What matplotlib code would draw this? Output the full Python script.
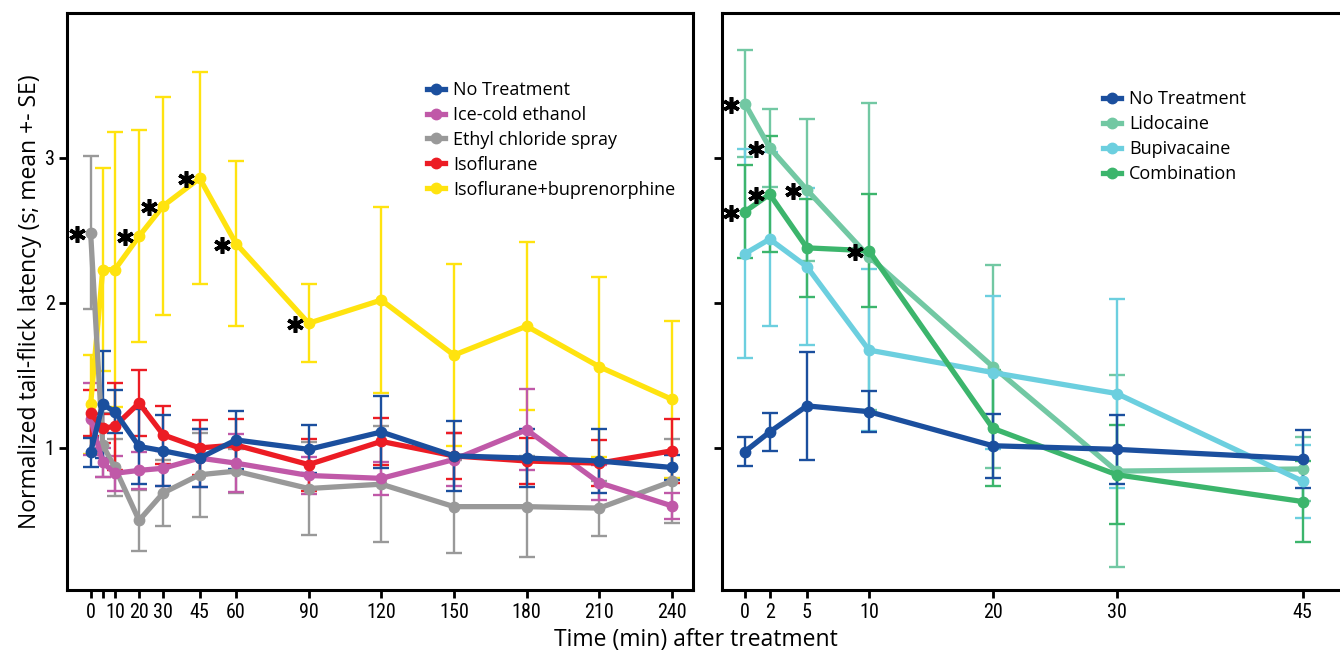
import matplotlib
matplotlib.use('Agg')
import matplotlib.pyplot as plt
from matplotlib import font_manager
from matplotlib.lines import Line2D
from matplotlib.transforms import offset_copy

# left panel: systemic / general treatments
t_left = [0, 5, 10, 20, 30, 45, 60, 90, 120, 150, 180, 210, 240]
tick_left = [0, 5, 10, 20, 30, 45, 60, 90, 120, 150, 180, 210, 240]
ticklab_left = ['0', '', '10', '20', '30', '45', '60', '90', '120', '150', '180', '210', '240']

no_treat = [0.97, 1.30, 1.25, 1.01, 0.98, 0.93, 1.055, 0.99, 1.11, 0.945, 0.93, 0.91, 0.865]
no_treat_se = [0.10, 0.37, 0.15, 0.26, 0.245, 0.20, 0.20, 0.165, 0.25, 0.24, 0.20, 0.22, 0.085]
ice = [1.20, 0.90, 0.825, 0.845, 0.86, 0.93, 0.895, 0.81, 0.79, 0.92, 1.125, 0.76, 0.60]
ice_se = [0.25, 0.10, 0.12, 0.13, 0.12, 0.20, 0.20, 0.13, 0.115, 0.18, 0.28, 0.12, 0.09]
ethyl = [2.485, 1.02, 0.865, 0.50, 0.69, 0.815, 0.84, 0.72, 0.75, 0.595, 0.595, 0.585, 0.77]
ethyl_se = [0.53, 0.22, 0.20, 0.21, 0.23, 0.29, 0.15, 0.32, 0.40, 0.32, 0.35, 0.19, 0.29]
iso = [1.24, 1.135, 1.15, 1.31, 1.09, 1.00, 1.02, 0.885, 1.045, 0.945, 0.91, 0.895, 0.98]
iso_se = [0.16, 0.10, 0.30, 0.23, 0.20, 0.19, 0.18, 0.18, 0.16, 0.16, 0.16, 0.16, 0.22]
isobup = [1.30, 2.23, 2.23, 2.46, 2.67, 2.86, 2.41, 1.86, 2.02, 1.64, 1.84, 1.56, 1.335]
isobup_se = [0.34, 0.70, 0.95, 0.73, 0.75, 0.73, 0.57, 0.27, 0.64, 0.63, 0.58, 0.62, 0.54]

# right panel: local anaesthetics
t_right = [0, 2, 5, 10, 20, 30, 45]
nt_right = [0.975, 1.11, 1.29, 1.25, 1.015, 0.99, 0.925]
nt_right_se = [0.10, 0.13, 0.37, 0.14, 0.22, 0.24, 0.20]
lido = [3.375, 3.07, 2.78, 2.32, 1.56, 0.84, 0.855]
lido_se = [0.37, 0.27, 0.49, 1.06, 0.70, 0.66, 0.22]
bupi = [2.34, 2.44, 2.25, 1.675, 1.52, 1.375, 0.77]
bupi_se = [0.72, 0.60, 0.54, 0.56, 0.53, 0.65, 0.25]
combo = [2.63, 2.75, 2.38, 2.36, 1.135, 0.815, 0.63]
combo_se = [0.32, 0.40, 0.34, 0.39, 0.40, 0.34, 0.28]

# significance marks: (series, index)
stars_left = [('ethyl', 0), ('isobup', 3), ('isobup', 4), ('isobup', 5), ('isobup', 6), ('isobup', 7)]
stars_right = [('lido', 0), ('lido', 1), ('lido', 2), ('combo', 0), ('combo', 1), ('combo', 3)]

BLUE = '#1b4f9e'
PURPLE = '#c059a8'
GRAY = '#999999'
RED = '#ec1c24'
YELLOW = '#ffe30f'
LIDO = '#72c8a3'
BUPI = '#6ccfdf'
COMBO = '#3cb56c'

names = {f.name for f in font_manager.fontManager.ttflist}
label_font = 'Open Sans' if 'Open Sans' in names else 'DejaVu Sans'
tick_font = label_font
tick_size = 13.5
for cand in ['Liberation Sans Narrow', 'Roboto Condensed', 'Open Sans Condensed']:
    if cand in names:
        tick_font = cand
        tick_size = 14.5
        break

fig = plt.figure(figsize=(13.4, 6.56), dpi=100)
axL = fig.add_axes([0.05, 0.1006, 0.4672, 0.8796])
axR = fig.add_axes([0.5388, 0.1006, 0.4612, 0.8796])


def draw(ax, x, y, se, color):
    ax.errorbar(x, y, yerr=se, fmt='-o', color=color, lw=3.8, ms=7.5,
                elinewidth=1.7, capsize=6, capthick=1.7,
                solid_capstyle='round', solid_joinstyle='round')


def stars(ax, x, series, marks):
    tr = offset_copy(ax.transData, fig=fig, x=-14, y=-1, units='dots')
    xs = [x[i] for s, i in marks]
    ys = [series[s][i] for s, i in marks]
    ax.plot(xs, ys, ls='none', marker=(6, 2, 0), ms=12, mew=2.6,
            color='black', transform=tr, zorder=10)


left_series = [
    ('Isoflurane+buprenorphine', isobup, isobup_se, YELLOW),
    ('Ethyl chloride spray', ethyl, ethyl_se, GRAY),
    ('Ice-cold ethanol', ice, ice_se, PURPLE),
    ('Isoflurane', iso, iso_se, RED),
    ('No Treatment', no_treat, no_treat_se, BLUE),
]
for name, y, se, c in left_series:
    draw(axL, t_left, y, se, c)
stars(axL, t_left, {'ethyl': ethyl, 'isobup': isobup}, stars_left)

right_series = [
    ('Lidocaine', lido, lido_se, LIDO),
    ('Bupivacaine', bupi, bupi_se, BUPI),
    ('Combination', combo, combo_se, COMBO),
    ('No Treatment', nt_right, nt_right_se, BLUE),
]
for name, y, se, c in right_series:
    draw(axR, t_right, y, se, c)
stars(axR, t_right, {'lido': lido, 'combo': combo}, stars_right)

axL.set_xlim(-9.75, 248.7)
axR.set_xlim(-1.85, 48.0)
for ax in (axL, axR):
    ax.set_ylim(0.02, 4.0)
    ax.set_yticks([1, 2, 3])
    for sp in ax.spines.values():
        sp.set_linewidth(2.2)
    ax.tick_params(direction='out', length=6, width=2, pad=3)

axL.set_xticks(tick_left)
axL.set_xticklabels(ticklab_left, fontfamily=tick_font, fontsize=tick_size)
axL.set_yticklabels(['1', '2', '3'], fontfamily=tick_font, fontsize=tick_size)
axR.set_xticks(t_right)
axR.set_xticklabels([str(t) for t in t_right], fontfamily=tick_font, fontsize=tick_size)
axR.set_yticklabels([])
axR.spines['right'].set_visible(False)


def handles(series):
    order = ['No Treatment', 'Ice-cold ethanol', 'Ethyl chloride spray', 'Isoflurane',
             'Isoflurane+buprenorphine', 'Lidocaine', 'Bupivacaine', 'Combination']
    items = sorted(series, key=lambda s: order.index(s[0]))
    h = [Line2D([], [], color=c, lw=3.8, marker='o', ms=7.5) for _, _, _, c in items]
    return h, [n for n, _, _, _ in items]


h, l = handles(left_series)
axL.legend(h, l, loc='upper left', bbox_to_anchor=(0.575, 0.882), frameon=False,
           borderpad=0, borderaxespad=0, handlelength=1.0, handletextpad=0.45,
           labelspacing=0.38, prop={'family': label_font, 'size': 13})
h, l = handles(right_series)
axR.legend(h, l, loc='upper left', bbox_to_anchor=(0.6165, 0.866), frameon=False,
           borderpad=0, borderaxespad=0, handlelength=1.0, handletextpad=0.45,
           labelspacing=0.38, prop={'family': label_font, 'size': 13})

fig.text(0.519, 0.024, 'Time (min) after treatment', ha='center', va='center',
         fontsize=16.5, family=label_font)
fig.text(0.0224, 0.54, 'Normalized tail-flick latency (s; mean +- SE)', ha='center',
         va='center', rotation=90, fontsize=16.5, family=label_font)

fig.savefig('out.png', dpi=100)
